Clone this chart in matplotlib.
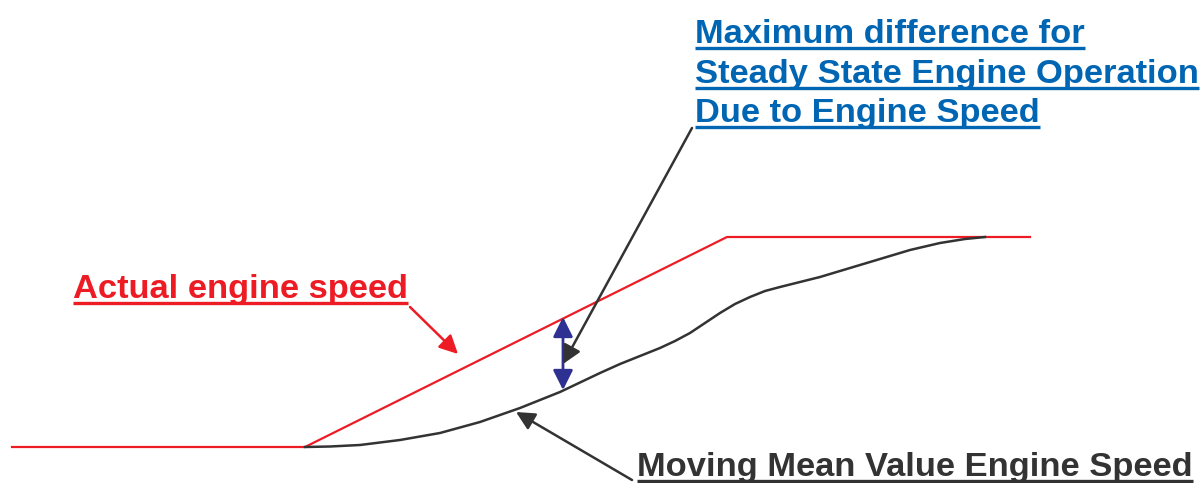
import numpy as np
import matplotlib.pyplot as plt

# sketch coordinates (pixel-like units, y grows downward)
actual_x = [12, 305, 727, 1030]
actual_y = [447, 447, 237, 237]

mean_x = [305, 330, 360, 400, 440, 480, 520, 560, 600, 620, 640, 660, 675, 690, 705,
          720, 735, 750, 765, 780, 800, 820, 850, 880, 910, 940, 965, 985]
mean_y = [447, 446.5, 445, 440, 433, 422, 408, 392, 373, 364, 356, 348, 341, 333, 323,
          313, 304, 297, 291, 287, 282, 277, 268, 259, 250, 243, 239, 237]

red = '#ed1c24'
blue = '#0066b3'
dark = '#333333'
navy = '#2e3192'

fig = plt.figure(figsize=(12.01, 4.83), dpi=100)
ax = fig.add_axes([0, 0, 1, 1])
ax.set_xlim(0, 1201)
ax.set_ylim(483, 0)
ax.axis('off')

ax.plot(actual_x, actual_y, color=red, lw=1.6)
ax.plot(mean_x, mean_y, color=dark, lw=1.8, solid_joinstyle='round')

# double arrow showing the gap
ax.annotate('', xy=(563, 317), xytext=(563, 390),
            arrowprops=dict(arrowstyle='<|-|>', color=navy, lw=2, mutation_scale=30,
                            shrinkA=0, shrinkB=0))

# pointer arrows
ax.annotate('', xy=(458, 354), xytext=(410, 307),
            arrowprops=dict(arrowstyle='-|>', color=red, lw=1.8, mutation_scale=28,
                            shrinkA=0, shrinkB=0))
ax.annotate('', xy=(563, 364), xytext=(692, 128),
            arrowprops=dict(arrowstyle='-|>', color=dark, lw=1.8, mutation_scale=28,
                            shrinkA=0, shrinkB=0))
ax.annotate('', xy=(516, 412), xytext=(632, 480),
            arrowprops=dict(arrowstyle='-|>', color=dark, lw=1.8, mutation_scale=28,
                            shrinkA=0, shrinkB=0))

font = dict(family='Liberation Sans', weight='bold', size=24.8)
labels = [
    ('Actual engine speed', 73, 298, red),
    ('Maximum difference for', 695, 43, blue),
    ('Steady State Engine Operation', 695, 83, blue),
    ('Due to Engine Speed', 695, 122, blue),
    ('Moving Mean Value Engine Speed', 637, 476, dark),
]
texts = []
for s, x, y, c in labels:
    t = ax.text(x, y, s, color=c, ha='left', va='baseline', **font)
    texts.append((t, y, c))

# underline each label
fig.canvas.draw()
r = fig.canvas.get_renderer()
inv = ax.transData.inverted()
for t, y, c in texts:
    bb = t.get_window_extent(renderer=r)
    x0 = inv.transform((bb.x0, 0))[0]
    x1 = inv.transform((bb.x1, 0))[0]
    ax.plot([x0, x1], [y + 5, y + 5], color=c, lw=2.4, solid_capstyle='butt')

fig.savefig('out.png', dpi=100)
